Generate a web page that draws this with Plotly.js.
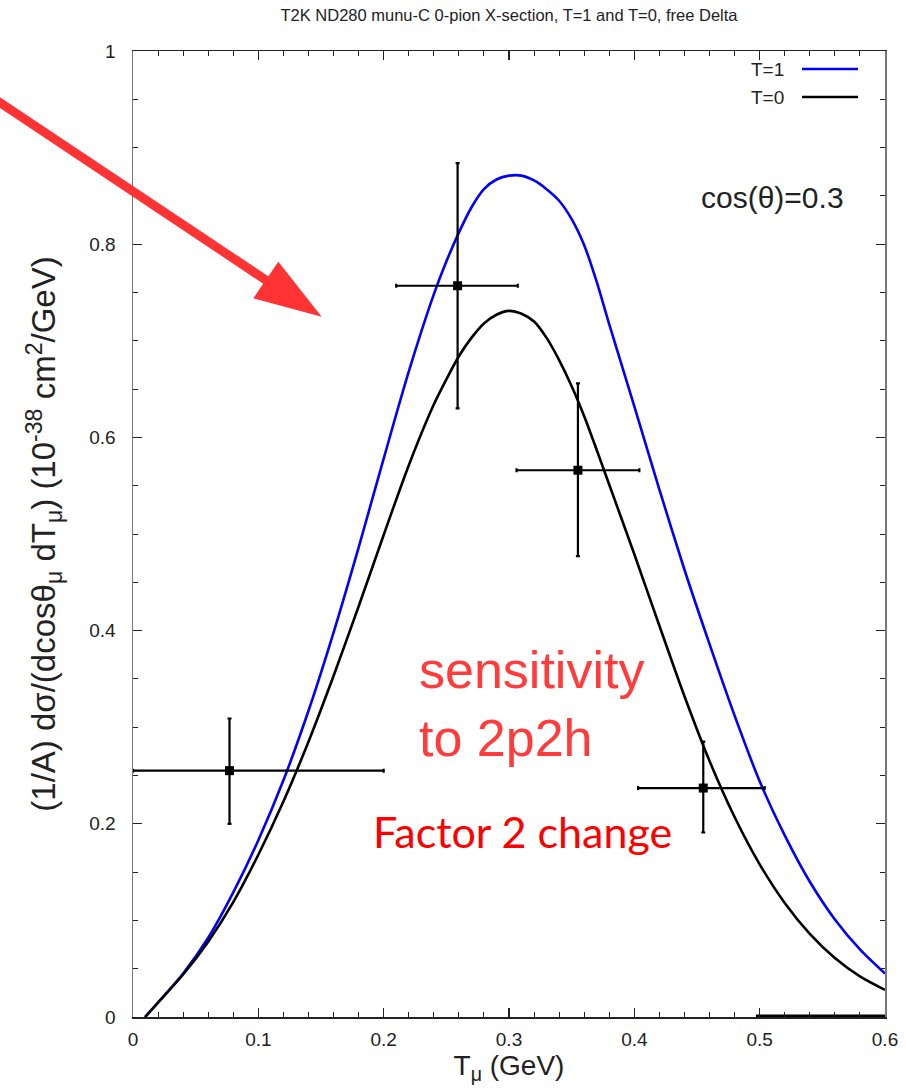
<!DOCTYPE html>
<html>
<head>
<meta charset="utf-8">
<script src="https://cdn.plot.ly/plotly-3.0.1.min.js"></script>
<style>html,body{margin:0;padding:0;background:#fff}#chart{width:906px;height:1092px}</style>
</head>
<body>
<div id="chart"></div>
<script>
// ---- Data ----
const tMu = [0.0096, 0.02, 0.04, 0.06, 0.08, 0.10, 0.12, 0.14, 0.16, 0.18, 0.20, 0.22, 0.24, 0.25, 0.26, 0.27, 0.28, 0.29, 0.30, 0.31, 0.32, 0.33, 0.34, 0.35, 0.36, 0.37, 0.38, 0.40, 0.42, 0.44, 0.46, 0.48, 0.50, 0.52, 0.54, 0.56, 0.58, 0.60];
const xsecT1 = [0, 0.015, 0.045, 0.082, 0.129, 0.183, 0.245, 0.317, 0.398, 0.486, 0.578, 0.668, 0.748, 0.782, 0.812, 0.838, 0.857, 0.867, 0.871, 0.871, 0.866, 0.857, 0.845, 0.826, 0.799, 0.761, 0.717, 0.632, 0.546, 0.463, 0.386, 0.312, 0.244, 0.188, 0.140, 0.101, 0.070, 0.045];
const xsecT0 = [0, 0.015, 0.044, 0.078, 0.119, 0.168, 0.223, 0.285, 0.353, 0.425, 0.499, 0.571, 0.634, 0.660, 0.684, 0.703, 0.718, 0.727, 0.731, 0.728, 0.720, 0.703, 0.680, 0.653, 0.622, 0.587, 0.551, 0.479, 0.405, 0.332, 0.265, 0.207, 0.158, 0.118, 0.086, 0.061, 0.042, 0.028];

const dataT = [0.077, 0.259, 0.355, 0.455];
const dataXsec = [0.255, 0.757, 0.566, 0.237];
const dataTMinus = [0.077, 0.049, 0.049, 0.052];
const dataTPlus = [0.123, 0.048, 0.049, 0.049];
const dataErrUp = [0.054, 0.127, 0.090, 0.048];
const dataErrDown = [0.055, 0.127, 0.089, 0.046];

const zeroSegT = [0.497, 0.6];
const zeroSegY = [0, 0];

const xTickVals = [0, 0.1, 0.2, 0.3, 0.4, 0.5, 0.6];
const xTickText = ['0', '0.1', '0.2', '0.3', '0.4', '0.5', '0.6'];
const yTickVals = [0, 0.2, 0.4, 0.6, 0.8, 1];
const yTickText = ['0', '0.2', '0.4', '0.6', '0.8', '1'];

const seriesNames = ['T=1', 'T=0'];
// --------------------------------------

const FONT = 'Liberation Sans, Arial, sans-serif';
const L = 133, R = 21, T = 51, B = 75, W = 906, H = 1092;
const PW = W - L - R, PH = H - T - B;
const px = v => (v - L) / PW;          // pixel x -> paper x
const py = v => (H - B - v) / PH;      // pixel y -> paper y

const traces = [
  {x: tMu, y: xsecT1, mode: 'lines', name: seriesNames[0], line: {color: '#0000ff', width: 2.6, shape: 'spline', smoothing: 0.8}, showlegend: false},
  {x: tMu, y: xsecT0, mode: 'lines', name: seriesNames[1], line: {color: '#000000', width: 2.6, shape: 'spline', smoothing: 0.8}, showlegend: false},
  {x: zeroSegT, y: zeroSegY, mode: 'lines', line: {color: '#000', width: 5}, showlegend: false, hoverinfo: 'skip'},
  {x: dataT, y: dataXsec, mode: 'markers', name: 'data', showlegend: false,
   marker: {symbol: 'square', size: 9, color: '#000'},
   error_x: {type: 'data', symmetric: false, array: dataTPlus, arrayminus: dataTMinus, color: '#000', thickness: 2.2, width: 2},
   error_y: {type: 'data', symmetric: false, array: dataErrUp, arrayminus: dataErrDown, color: '#000', thickness: 2.2, width: 2},
   cliponaxis: false}
];

const axisCommon = {
  showline: true, linecolor: '#222', linewidth: 1.5, mirror: 'ticks',
  ticks: 'inside', ticklen: 9, tickwidth: 1.3, tickcolor: '#222',
  showgrid: false, zeroline: false, tickmode: 'array',
  tickfont: {family: FONT, size: 19, color: '#222'}
};

const layout = {
  width: W, height: H,
  margin: {l: L, r: R, t: T, b: B},
  paper_bgcolor: '#fff', plot_bgcolor: '#fff',
  showlegend: false,
  title: {text: 'T2K ND280 munu-C 0-pion X-section, T=1 and T=0, free Delta',
          font: {family: FONT, size: 16.5, color: '#222'},
          x: 0.5, xref: 'paper', y: 1 - 15 / H, yref: 'container', yanchor: 'middle'},
  xaxis: Object.assign({}, axisCommon, {
    range: [0, 0.6], tickvals: xTickVals, ticktext: xTickText, ticklabelstandoff: 5,
    minor: {tickmode: 'linear', tick0: 0, dtick: 0.02, ticks: 'inside', ticklen: 5, tickwidth: 1, tickcolor: '#222'},
    title: {text: 'T<sub>μ</sub> (GeV)', font: {family: FONT, size: 28, color: '#222'}, standoff: 6}
  }),
  yaxis: Object.assign({}, axisCommon, {
    range: [0, 1], tickvals: yTickVals, ticktext: yTickText, ticklabelstandoff: 12,
    linecolor: '#777',
    minor: {tickmode: 'linear', tick0: 0, dtick: 0.05, ticks: 'inside', ticklen: 5, tickwidth: 1, tickcolor: '#222'},
    title: {text: '(1/A) dσ/(dcosθ<sub>μ</sub> dT<sub>μ</sub>) (10<sup>-38</sup> cm<sup>2</sup>/GeV)',
            font: {family: FONT, size: 33, color: '#222'}, standoff: 23}
  }),
  annotations: [
    {xref: 'paper', yref: 'paper', x: px(786), y: py(69), xanchor: 'right', yanchor: 'middle', showarrow: false,
     text: seriesNames[0], font: {family: FONT, size: 19, color: '#222'}},
    {xref: 'paper', yref: 'paper', x: px(786), y: py(97), xanchor: 'right', yanchor: 'middle', showarrow: false,
     text: seriesNames[1], font: {family: FONT, size: 19, color: '#222'}},
    {xref: 'paper', yref: 'paper', x: px(846), y: py(197), xanchor: 'right', yanchor: 'middle', showarrow: false,
     text: 'cos(θ)=0.3', font: {family: FONT, size: 30, color: '#222'}},
    {xref: 'paper', yref: 'paper', x: px(417), y: py(704), xanchor: 'left', yanchor: 'middle', showarrow: false, align: 'left',
     text: 'sensitivity<br>to 2p2h', font: {family: FONT, size: 52, color: '#ff3b3b'}},
    {xref: 'paper', yref: 'paper', x: px(522), y: py(831), xanchor: 'center', yanchor: 'middle', showarrow: false,
     text: 'Factor 2 change', font: {family: 'Lato, Open Sans, sans-serif', size: 43, color: '#ff0000'}}
  ],
  shapes: [
    {type: 'line', xref: 'paper', yref: 'paper', x0: px(802), x1: px(858), y0: py(69), y1: py(69), line: {color: '#0000ff', width: 2.6}},
    {type: 'line', xref: 'paper', yref: 'paper', x0: px(802), x1: px(858), y0: py(97), y1: py(97), line: {color: '#000', width: 2.6}},
    {type: 'line', xref: 'paper', yref: 'paper', x0: px(-5), y0: py(99.3), x1: px(268), y1: py(281.5), line: {color: '#ff3333', width: 9}},
    {type: 'path', xref: 'paper', yref: 'paper', fillcolor: '#ff3333', line: {width: 0},
     path: `M ${px(321.7)} ${py(316.7)} L ${px(253.3)} ${py(298.3)} L ${px(278.3)} ${py(261.7)} Z`}
  ]
};

Plotly.newPlot('chart', traces, layout, {staticPlot: true});
</script>
</body>
</html>
